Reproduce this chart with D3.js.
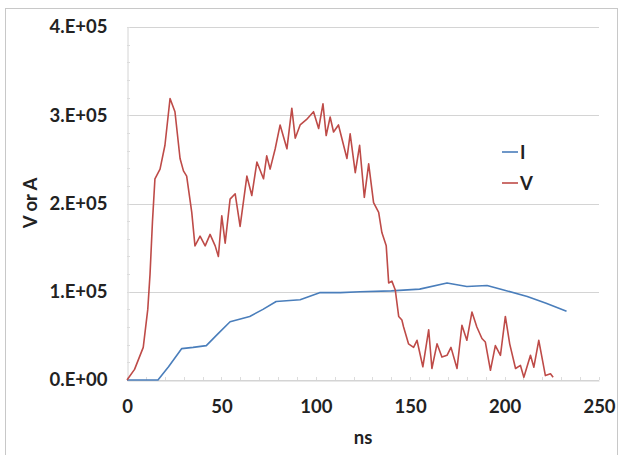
<!DOCTYPE html>
<html>
<head>
<meta charset="utf-8">
<script src="https://cdn.jsdelivr.net/npm/d3@7"></script>
<style>
  html, body { margin: 0; padding: 0; background: #fff; }
  svg { display: block; }
  text { font-family: Lato, "Open Sans", sans-serif; font-weight: bold; fill: #222; }
</style>
</head>
<body>
<script>
// Current (A) over time (ns)
const iTime  = [0, 16.4, 22, 29, 35, 42, 48, 54.6, 65, 72, 79, 91.7, 102, 113, 123.5, 140, 155, 169.5, 180, 190.7, 199.5, 212, 222, 232.8];
const iValue = [0, 0, 15000, 35600, 37000, 39000, 52000, 66000, 72000, 80000, 89000, 91000, 99000, 99000, 100000, 101000, 103000, 110000, 106000, 107000, 102000, 94500, 87000, 78000];

// Voltage (V) over time (ns)
const vTime  = [0, 4, 8.6, 11, 12.2, 13.5, 14.8, 17.5, 20.1, 22.8, 25.4, 28.1, 29.9, 31.6, 34.3, 36, 38.7, 41.4, 44, 46.7, 48.4, 50.2, 52, 54.6, 57.3, 59.9, 63.5, 66.1, 68.8, 72.3, 74, 75.8, 78.5, 81.1, 84.7, 87.3, 89.1, 91.7, 95, 98.8, 101.5, 103.8, 105.5, 107.6, 109.4, 112, 116.5, 118.2, 120.9, 123.2, 125.7, 128, 130.6, 133.3, 135, 137.3, 138.6, 140.3, 142.1, 143.9, 145.6, 146.5, 149.1, 151.8, 153.6, 156.7, 159.8, 161.5, 164.2, 166.8, 169.5, 171.6, 174.8, 177.4, 180, 182.7, 185.3, 188, 189.8, 192.5, 195.1, 197.8, 200.4, 202.7, 205.8, 208.4, 210.2, 213.7, 215.5, 218.1, 221.6, 224.3, 225.7];
const vValue = [0, 12000, 37000, 80000, 120000, 180000, 228000, 239000, 266000, 319000, 304000, 251000, 237000, 231000, 190000, 152000, 163000, 152000, 165000, 152000, 140000, 186000, 155000, 205000, 211000, 174000, 231000, 209000, 247000, 228000, 254000, 239000, 262000, 289000, 262000, 308000, 274000, 289000, 295000, 304000, 285000, 313000, 277000, 298000, 281000, 289000, 251000, 279000, 235000, 266000, 207000, 245000, 201000, 190000, 167000, 152000, 110000, 112000, 102000, 72000, 68000, 60000, 41000, 37000, 45000, 15000, 57000, 13000, 41000, 26000, 28000, 37000, 13000, 62000, 45000, 77000, 60000, 47000, 43000, 11000, 39000, 28000, 72000, 41000, 13000, 16500, 3000, 28000, 14500, 45000, 5000, 7000, 3000];

const xTicks = [0, 50, 100, 150, 200, 250];
const yTicks = [0, 100000, 200000, 300000, 400000];
const yTickLabels = ["0.E+00", "1.E+05", "2.E+05", "3.E+05", "4.E+05"];
const seriesNames = ["I", "V"];
const seriesColors = ["#4a7ebb", "#be4b48"];

const W = 622, H = 455;
const plot = { left: 127, right: 599, top: 27, bottom: 380 };
const fontSize = "18.5px";

const svg = d3.select("body").append("svg").attr("width", W).attr("height", H);

// chart frame
svg.append("rect")
  .attr("x", 5.5).attr("y", 8.5).attr("width", 612).attr("height", 460)
  .attr("fill", "#fff").attr("stroke", "#c8c8c8").attr("stroke-width", 1);

const x = d3.scaleLinear().domain([0, 250]).range([plot.left, plot.right]);
const y = d3.scaleLinear().domain([0, 400000]).range([plot.bottom, plot.top]);

// horizontal gridlines
svg.append("g")
  .selectAll("line")
  .data(yTicks)
  .join("line")
  .attr("x1", plot.left).attr("x2", plot.right)
  .attr("y1", d => Math.round(y(d)) + 0.5).attr("y2", d => Math.round(y(d)) + 0.5)
  .attr("stroke", "#d4d4d4").attr("stroke-width", 1);

// y axis
const yAxis = svg.append("g")
  .attr("transform", `translate(${plot.left + 0.5},0)`)
  .call(d3.axisLeft(y).tickValues(yTicks).tickFormat((d, i) => yTickLabels[i]).tickSize(0).tickPadding(20));
yAxis.select(".domain").attr("stroke", "#d4d4d4");
yAxis.selectAll("text").style("font-size", fontSize).style("font-family", "Lato, sans-serif").attr("fill", "#222");

// y minor ticks
svg.append("g")
  .selectAll("line")
  .data(d3.range(0, 400001, 20000))
  .join("line")
  .attr("x1", plot.left).attr("x2", plot.left + 3)
  .attr("y1", d => Math.round(y(d)) + 0.5).attr("y2", d => Math.round(y(d)) + 0.5)
  .attr("stroke", "#dcdcdc");

// x axis
const xAxis = svg.append("g")
  .attr("transform", `translate(0,${plot.bottom + 0.5})`)
  .call(d3.axisBottom(x).tickValues(xTicks).tickFormat(d3.format("d")).tickSize(0).tickPadding(19));
xAxis.select(".domain").attr("stroke", "#d4d4d4");
xAxis.selectAll("text").style("font-size", fontSize).style("font-family", "Lato, sans-serif").attr("fill", "#222");

// x minor ticks
svg.append("g")
  .selectAll("line")
  .data(d3.range(0, 251, 10))
  .join("line")
  .attr("x1", d => Math.round(x(d)) + 0.5).attr("x2", d => Math.round(x(d)) + 0.5)
  .attr("y1", plot.bottom).attr("y2", plot.bottom - 3)
  .attr("stroke", "#dcdcdc");

// axis titles
svg.append("text")
  .attr("transform", "translate(37,203) rotate(-90)")
  .attr("text-anchor", "middle")
  .style("font-size", fontSize)
  .text("V or A");
svg.append("text")
  .attr("x", 363).attr("y", 444)
  .attr("text-anchor", "middle")
  .style("font-size", fontSize)
  .text("ns");

// series
const line = d3.line().x(d => x(d[0])).y(d => y(d[1]));
const iData = iTime.map((t, k) => [t, iValue[k]]);
const vData = vTime.map((t, k) => [t, vValue[k]]);

svg.append("path")
  .datum(iData)
  .attr("d", line)
  .attr("fill", "none")
  .attr("stroke", seriesColors[0])
  .attr("stroke-width", 1.6)
  .attr("stroke-linejoin", "round");

svg.append("path")
  .datum(vData)
  .attr("d", line)
  .attr("fill", "none")
  .attr("stroke", seriesColors[1])
  .attr("stroke-width", 1.6)
  .attr("stroke-linejoin", "round");

// legend
const legend = svg.append("g").attr("transform", "translate(502,152)");
seriesNames.forEach((name, k) => {
  const g = legend.append("g").attr("transform", `translate(0,${k * 31})`);
  g.append("line").attr("x1", 0).attr("x2", 16).attr("y1", 0).attr("y2", 0)
    .attr("stroke", seriesColors[k]).attr("stroke-width", 1.6);
  g.append("text").attr("x", 18).attr("y", 6.5).style("font-size", fontSize).text(name);
});
</script>
</body>
</html>
